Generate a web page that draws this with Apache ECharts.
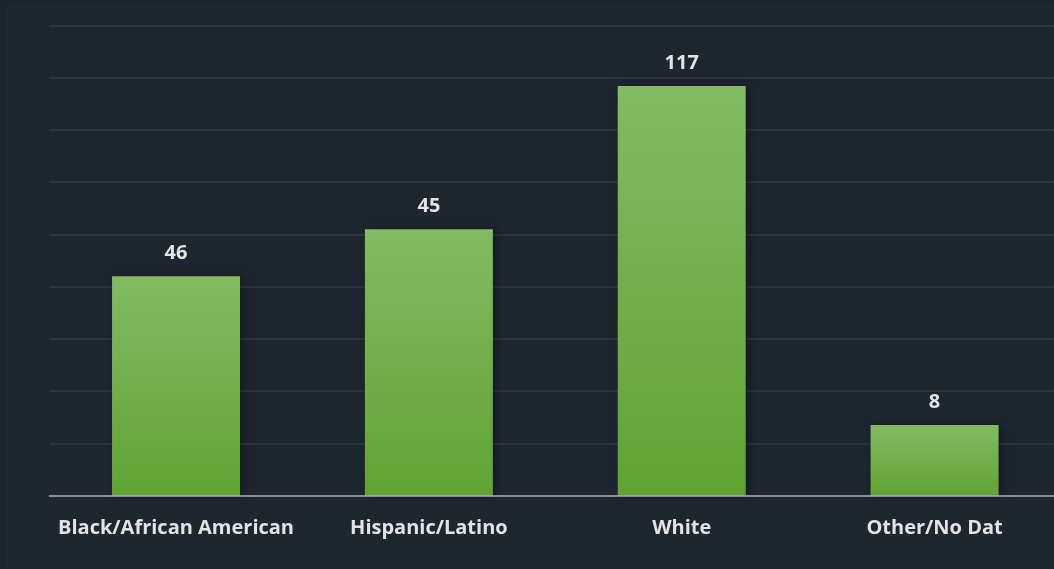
<!DOCTYPE html>
<html>
<head>
<meta charset="utf-8">
<script src="https://cdn.jsdelivr.net/npm/echarts@6/dist/echarts.min.js"></script>
<style>
  html, body { margin: 0; padding: 0; background: #19242d; width: 1054px; height: 569px; overflow: hidden; position: relative; }
  #chart { position: absolute; left: 6px; top: 4px; width: 1055px; height: 565px; background: #1e2630; }
</style>
</head>
<body>
<div id="chart"></div>
<script>
const categories = ['Black/African American', 'Hispanic/Latino', 'White', 'Other/No Dat'];
const barValues = [42.0, 51.0, 78.4, 13.5];
const labelValues = [46, 45, 117, 8];

const chart = echarts.init(document.getElementById('chart'));
chart.setOption({
  backgroundColor: 'transparent',
  animation: false,
  grid: { left: 43.6, right: 0, top: 21.5, bottom: 73.5 },
  xAxis: {
    type: 'category',
    data: categories,
    axisLine: { lineStyle: { color: 'rgba(255,255,255,0.45)', width: 2 } },
    axisTick: { show: false },
    axisLabel: {
      color: '#e3e3e3', fontSize: 20, fontWeight: 'bold',
      fontFamily: 'Open Sans', margin: 23, interval: 0
    },
    z: 5
  },
  yAxis: {
    type: 'value',
    min: 0, max: 90, interval: 10,
    axisLabel: { show: false },
    axisLine: { show: false },
    axisTick: { show: false },
    splitLine: { lineStyle: { color: 'rgba(255,255,255,0.09)', width: 1.5 } }
  },
  series: [{
    type: 'bar',
    data: barValues,
    barWidth: 128,
    itemStyle: {
      color: new echarts.graphic.LinearGradient(0, 0, 0, 1, [
        { offset: 0, color: '#82bb62' },
        { offset: 1, color: '#60a332' }
      ]),
      shadowColor: 'rgba(0,0,0,0.35)',
      shadowBlur: 10,
      shadowOffsetX: 3
    },
    label: {
      show: true,
      position: 'top',
      distance: 13,
      color: '#e3e3e3',
      fontSize: 20,
      fontWeight: 'bold',
      fontFamily: 'Open Sans',
      formatter: p => String(labelValues[p.dataIndex])
    }
  }]
});
</script>
</body>
</html>
